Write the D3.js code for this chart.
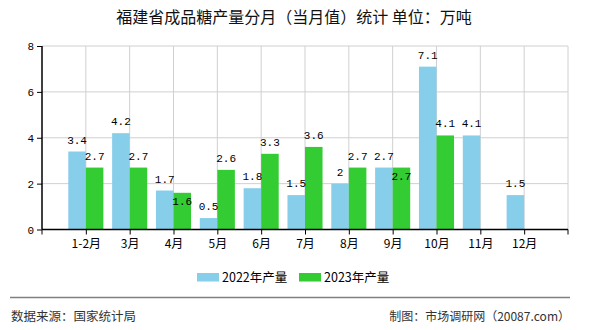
<!DOCTYPE html>
<html><head><meta charset="utf-8">
<script src="https://cdn.jsdelivr.net/npm/d3@7/dist/d3.min.js"></script>
<style>
body{margin:0;background:#fff;}
svg{display:block;font-family:"Noto Sans CJK SC","Noto Sans",sans-serif;}
</style></head>
<body><svg id="c" width="590" height="330"></svg>
<script>
const categories = ["1-2月","3月","4月","5月","6月","7月","8月","9月","10月","11月","12月"];
const seriesNames = ["2022年产量","2023年产量"];
const values2022 = [3.4,4.2,1.7,0.5,1.8,1.5,2,2.7,7.1,4.1,1.5];
const values2023 = [2.7,2.7,1.6,2.6,3.3,3.6,2.7,2.7,4.1,null,null];
const yTicks = [0,2,4,6,8];
const colors = ["#87CEEB","#33CC33"];
const title = "福建省成品糖产量分月（当月值）统计 单位：万吨";
const sourceText = "数据来源：国家统计局";
const creditText = "制图：市场调研网（20087.com）";

const svg = d3.select("#c");
const L = 42, R = 568, T = 46, B = 229.5;

const x = d3.scalePoint().domain(categories).range([L, R]).padding(1);
const step = x.step();
const x1 = d3.scaleBand().domain(seriesNames).range([-step*0.4, step*0.4]).padding(0);
const y = d3.scaleLinear().domain([0, 8]).range([B, T]);

// grid
const g = svg.append("g");
g.selectAll(".hg").data(yTicks.filter(d=>d>0)).join("line")
  .attr("x1", L).attr("x2", R).attr("y1", d=>y(d)).attr("y2", d=>y(d))
  .attr("stroke", "#d0d0d0").attr("stroke-width", 1);
const vxs = categories.map(c=>x(c)).concat([R]);
g.selectAll(".vg").data(vxs).join("line")
  .attr("x1", d=>d).attr("x2", d=>d).attr("y1", T).attr("y2", B)
  .attr("stroke", "#d0d0d0").attr("stroke-width", 1);

// bars
const series = [values2022, values2023];
series.forEach((vals, si) => {
  svg.append("g").selectAll("rect").data(vals.map((v,i)=>({v, c:categories[i]})).filter(d=>d.v!=null))
    .join("rect")
    .attr("x", d=>x(d.c)+x1(seriesNames[si]))
    .attr("width", x1.bandwidth())
    .attr("y", d=>y(d.v))
    .attr("height", d=>B - y(d.v))
    .attr("fill", colors[si]);
});

// labels with simple collision avoidance
const lab = svg.append("g").attr("font-family", "'Liberation Mono','DejaVu Sans Mono',monospace")
  .attr("font-size", 11).attr("fill", "#000").attr("text-anchor", "middle");
categories.forEach((c, i) => {
  const a = values2022[i], b = values2023[i];
  if (a != null) {
    lab.append("text").attr("x", x(c)+x1(seriesNames[0])+x1.bandwidth()/2)
      .attr("y", y(a)-8).text(a);
  }
  if (b != null) {
    let yy = y(b)-8;
    if (a != null && Math.abs(y(a)-y(b)) < 12) yy = y(b)+12;
    lab.append("text").attr("x", x(c)+x1(seriesNames[1])+x1.bandwidth()/2)
      .attr("y", yy).text(b);
  }
});

// axes
const yAxis = svg.append("g").attr("transform", `translate(${L},0)`)
  .call(d3.axisLeft(y).tickValues(yTicks).tickSize(5).tickPadding(3));
yAxis.select(".domain").attr("stroke","#000").attr("stroke-width",1.5).attr("d", `M0,${T}V${B}`);
yAxis.selectAll("text").attr("font-family","'Liberation Mono','DejaVu Sans Mono',monospace").attr("font-size",11).attr("fill","#000");

const xAxis = svg.append("g").attr("transform", `translate(0,${B})`)
  .call(d3.axisBottom(x).tickSize(5).tickPadding(5));
xAxis.select(".domain").attr("stroke","#000").attr("stroke-width",1.5).attr("d", `M${L},0H${R}`);
xAxis.selectAll("text").attr("font-family","'Noto Sans CJK SC',sans-serif").attr("font-size",12).attr("fill","#000");
[L, R].forEach(px => xAxis.append("line").attr("x1",px).attr("x2",px).attr("y1",0).attr("y2",5).attr("stroke","#000"));

// title
svg.append("text").attr("x", 294).attr("y", 23).attr("text-anchor","middle")
  .attr("font-size", 16).attr("fill","#111").text(title);

// legend
const leg = svg.append("g");
const legX = [197, 299];
seriesNames.forEach((s, i) => {
  leg.append("rect").attr("x", legX[i]).attr("y", 273).attr("width", 22).attr("height", 8.5).attr("fill", colors[i]);
  leg.append("text").attr("x", legX[i]+25).attr("y", 282).attr("font-size", 12.5).attr("fill","#000").text(s);
});

// footer
svg.append("line").attr("x1",10).attr("x2",570).attr("y1",297.5).attr("y2",297.5).attr("stroke","#808080").attr("stroke-width",1.5);
svg.append("text").attr("x",11).attr("y",321).attr("font-size",12.5).attr("fill","#333").text(sourceText);
svg.append("text").attr("x",570).attr("y",321).attr("text-anchor","end").attr("font-size",12).attr("fill","#333").text(creditText);
</script></body></html>
